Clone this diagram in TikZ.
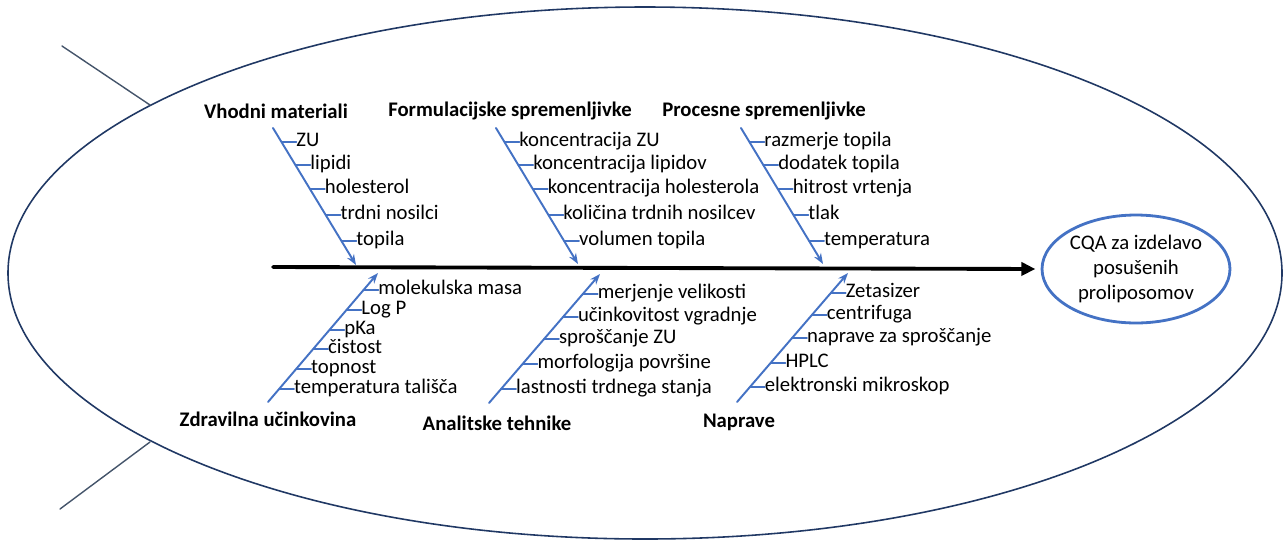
\documentclass[tikz,border=0pt]{standalone}
\usepackage{fontspec}
\setmainfont{Carlito}
\usetikzlibrary{calc,arrows.meta,shapes.geometric}
\definecolor{bonecol}{HTML}{4472C4}
\definecolor{fishcol}{HTML}{203864}
\definecolor{tailcol}{HTML}{44546A}
\begin{document}
\begin{tikzpicture}[x=0.02cm,y=-0.02cm,>=Stealth,font=\fontsize{11.8}{14.2}\selectfont,line join=round,line cap=round]
	\tikzset{
		bone/.style={bonecol,line width=1.1pt,-{Stealth[length=6pt,width=4.5pt]}},
		tick/.style={bonecol,line width=0.8pt},
		item/.style={anchor=west,inner sep=0pt,outer sep=0pt,text height=1.45ex,text depth=0.35ex},
		head/.style={font=\fontsize{11.8}{14.2}\selectfont\bfseries,inner sep=0pt},
		cqa/.style={ellipse,draw=bonecol,line width=1.6pt,align=center,inner sep=0pt,minimum width=3.76cm,minimum height=2.16cm}
	}
	\useasboundingbox (0,0) rectangle (1284,542);
	% fish body and tail
	\draw[fishcol,line width=0.9pt] (645,273) ellipse [x radius=637,y radius=266];
	\draw[tailcol,line width=0.8pt] (62,46)--(150,105);
	\draw[tailcol,line width=0.8pt] (60,509)--(150,442);
	% head and spine
	\node[cqa] (cqa) at (1136,269) {CQA za izdelavo\\posušenih\\proliposomov};
	\coordinate (sp) at (273,267);
	\draw[line width=2.2pt,-{Triangle[length=8pt,width=7.5pt]},shorten >=3pt] (sp)--(cqa.west);
	% bones
	\coordinate (vm-a) at (273,128); \coordinate (vm-b) at (356,265);
	\coordinate (fs-a) at (496,128); \coordinate (fs-b) at (578,264);
	\coordinate (ps-a) at (741,128); \coordinate (ps-b) at (823,264);
	\coordinate (zu-a) at (268,402); \coordinate (zu-b) at (378,273);
	\coordinate (at-a) at (489,403); \coordinate (at-b) at (600,274);
	\coordinate (np-a) at (737,402); \coordinate (np-b) at (848,273);
	\foreach \b in {vm,fs,ps,zu,at,np}
		\draw[bone] (\b-a)--(\b-b);
	\path
	(276,111)node[head](vm-h){Vhodni materiali}
	(510,111)node[head](fs-h){Formulacijske spremenljivke}
	(764,111)node[head](ps-h){Procesne spremenljivke}
	(268,419)node[head](zu-h){Zdravilna učinkovina}
	(497,423)node[head](at-h){Analitske tehnike}
	(739,422)node[head](np-h){Naprave}
	;
	% causes
	\foreach \f/\t [count=\i] in {0.102/ZU,0.270/lipidi,0.445/holesterol,0.635/trdni nosilci,0.825/topila}{
		\coordinate (vm-t\i) at ($(vm-a)!\f!(vm-b)$);
		\node[item] (vm-\i) at ($(vm-t\i)+(15,0)$) {\t};
		\draw[tick] (vm-t\i)--(vm-\i.west);
	}
	\foreach \f/\t [count=\i] in {0.103/koncentracija ZU,0.272/koncentracija lipidov,0.449/koncentracija holesterola,0.640/količina trdnih nosilcev,0.831/volumen topila}{
		\coordinate (fs-t\i) at ($(fs-a)!\f!(fs-b)$);
		\node[item] (fs-\i) at ($(fs-t\i)+(15,0)$) {\t};
		\draw[tick] (fs-t\i)--(fs-\i.west);
	}
	\foreach \f/\t [count=\i] in {0.103/razmerje topila,0.272/dodatek topila,0.449/hitrost vrtenja,0.640/tlak,0.831/temperatura}{
		\coordinate (ps-t\i) at ($(ps-a)!\f!(ps-b)$);
		\node[item] (ps-\i) at ($(ps-t\i)+(15,0)$) {\t};
		\draw[tick] (ps-t\i)--(ps-\i.west);
	}
	\foreach \f/\t [count=\i] in {0.868/molekulska masa,0.713/Log P,0.558/pKa,0.411/čistost,0.256/topnost,0.101/temperatura tališča}{
		\coordinate (zu-t\i) at ($(zu-a)!\f!(zu-b)$);
		\node[item] (zu-\i) at ($(zu-t\i)+(15,0)$) {\t};
		\draw[tick] (zu-t\i)--(zu-\i.west);
	}
	\foreach \f/\t [count=\i] in {0.845/merjenje velikosti,0.667/učinkovitost vgradnje,0.496/sproščanje ZU,0.302/morfologija površine,0.109/lastnosti trdnega stanja}{
		\coordinate (at-t\i) at ($(at-a)!\f!(at-b)$);
		\node[item] (at-\i) at ($(at-t\i)+(15,0)$) {\t};
		\draw[tick] (at-t\i)--(at-\i.west);
	}
	\foreach \f/\t [count=\i] in {0.845/Zetasizer,0.674/centrifuga,0.496/naprave za sproščanje,0.302/HPLC,0.116/elektronski mikroskop}{
		\coordinate (np-t\i) at ($(np-a)!\f!(np-b)$);
		\node[item] (np-\i) at ($(np-t\i)+(15,0)$) {\t};
		\draw[tick] (np-t\i)--(np-\i.west);
	}
\end{tikzpicture}
\end{document}
